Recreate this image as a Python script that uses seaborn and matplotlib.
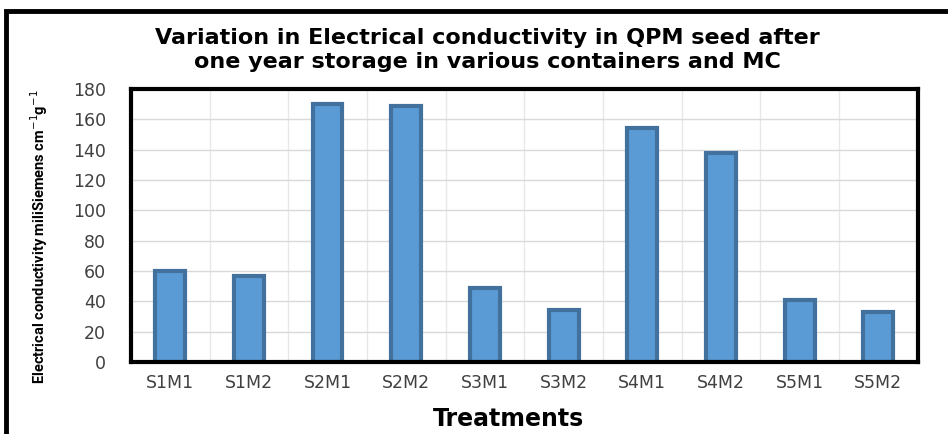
import numpy as np
import matplotlib
matplotlib.use("Agg")
import matplotlib.pyplot as plt
import pandas as pd
import seaborn as sns
from matplotlib.patches import Rectangle

treatments = ["S1M1", "S1M2", "S2M1", "S2M2", "S3M1", "S3M2", "S4M1", "S4M2", "S5M1", "S5M2"]
ec_values = [60, 57, 170, 169, 49, 34, 154, 138, 41, 33]
y_ticks = [0, 20, 40, 60, 80, 100, 120, 140, 160, 180]

df = pd.DataFrame({"Treatment": treatments, "EC": ec_values})

sns.set_style("white")
plt.rcParams['font.family'] = ['DejaVu Sans']

fig = plt.figure(figsize=(9.48, 4.34), dpi=100)
ax = fig.add_axes([0.138, 0.166, 0.83, 0.629])

sns.barplot(data=df, x="Treatment", y="EC", ax=ax, color="#5B9BD5",
            edgecolor="#41719C", linewidth=3, width=0.38, saturation=1)

ax.set_ylim(0, 180)
ax.set_xlim(-0.5, len(treatments) - 0.5)
ax.set_yticks(y_ticks)
ax.set_yticklabels([str(v) for v in y_ticks], fontsize=12.5, color="#404040")
ax.tick_params(axis="x", labelsize=12.5, labelcolor="#404040", length=0, pad=9)
ax.tick_params(axis="y", length=0, pad=18)

# vertical gridlines at category boundaries
ax.set_xticks(np.arange(-0.5, len(treatments), 1), minor=True)
ax.tick_params(axis="x", which="minor", length=6, color="#BFBFBF", width=1, direction="out")
ax.grid(True, axis="y", color="#D9D9D9", linewidth=1)
ax.grid(True, axis="x", which="minor", color="#E8E8E8", linewidth=1)
ax.set_axisbelow(True)

for s in ax.spines.values():
    s.set_visible(True)
    s.set_color("black")
    s.set_linewidth(3)

ax.set_xlabel("Treatments", fontsize=17, fontweight="bold", color="black")
ax.xaxis.set_label_coords(0.48, -0.165)
ax.set_ylabel("Electrical conductivity miliSiemens cm$^{-1}$g$^{-1}$", fontsize=10.5,
              fontweight="bold", color="black", family=['Roboto', 'DejaVu Sans'])
ax.yaxis.set_label_coords(-0.103, 0.46)

fig.text(0.514, 0.885, "Variation in Electrical conductivity in QPM seed after\none year storage in various containers and MC",
         ha="center", va="center", fontsize=16, fontweight="bold", color="black", linespacing=1.2)

# outer frame (runs off the right and bottom edges)
fig.patches.append(Rectangle((6 / 948, -0.05), 1.0, 1.05 - 11 / 434, transform=fig.transFigure,
                             fill=False, edgecolor="black", linewidth=3.5))

fig.savefig("out.png", dpi=100)
